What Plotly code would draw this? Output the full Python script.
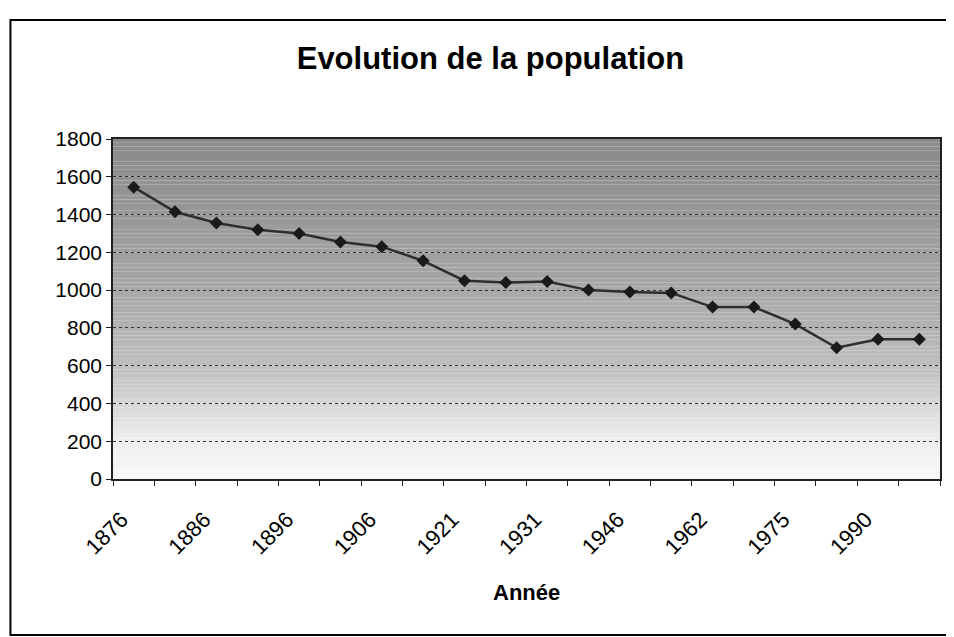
import plotly.graph_objects as go

annees = ["1876", "1881", "1886", "1891", "1896", "1901", "1906", "1911", "1921", "1926",
          "1931", "1936", "1946", "1954", "1962", "1968", "1975", "1982", "1990", "1999"]
population = [1545, 1415, 1355, 1320, 1300, 1255, 1230, 1155, 1050, 1040,
              1045, 1000, 990, 985, 910, 910, 820, 695, 740, 740]
y_ticks = [0, 200, 400, 600, 800, 1000, 1200, 1400, 1600, 1800]
# only every other year gets a label, like the original
x_ticktext = [a if i % 2 == 0 else "" for i, a in enumerate(annees)]

FONT = "Arial, 'Liberation Sans', sans-serif"

fig = go.Figure()

# grey-to-white gradient of the plot area, as bands
stops = [(0, 248), (200, 238), (400, 215), (600, 190), (1000, 168), (1400, 152), (1800, 138)]

def grey_at(v):
    for (v0, g0), (v1, g1) in zip(stops[:-1], stops[1:]):
        if v0 <= v <= v1:
            g = g0 + (g1 - g0) * (v - v0) / (v1 - v0)
            return int(round(g))
    return stops[-1][1]

step = 20
for lo in range(0, 1800, step):
    g = grey_at(lo + step / 2)
    fig.add_shape(type="rect", xref="paper", yref="y", x0=0, x1=1, y0=lo, y1=lo + step,
                  fillcolor=f"rgb({g},{g},{g})", line_width=0, layer="below")

fig.add_trace(go.Scatter(
    x=annees, y=population, mode="lines+markers",
    line=dict(color="#2e2e2e", width=2.5),
    marker=dict(symbol="diamond", size=10, color="#1a1a1a"),
    showlegend=False,
))

# outer chart frame
fig.add_shape(type="rect", xref="paper", yref="paper",
              x0=-0.124, x1=1.1, y0=-0.459, y1=1.35,
              line=dict(color="black", width=2), fillcolor="rgba(0,0,0,0)")

fig.add_annotation(text="<b>Année</b>", xref="paper", yref="paper", x=0.5, y=-0.335,
                   showarrow=False, font=dict(family=FONT, size=22, color="black"),
                   xanchor="center", yanchor="middle")

fig.update_xaxes(
    type="category", categoryorder="array", categoryarray=annees,
    range=[-0.5, len(annees) - 0.5],
    tickvals=annees, ticktext=x_ticktext, tickangle=-45,
    tickson="boundaries", ticks="outside", ticklen=5, tickcolor="#222",
    ticklabelstandoff=17, ticklabelshift=-12,
    tickfont=dict(family=FONT, size=22, color="black"),
    showgrid=False, showline=True, linecolor="#222", linewidth=2, mirror=True,
    zeroline=False,
)
fig.update_yaxes(
    range=[0, 1800], tickvals=y_ticks, ticks="outside", ticklen=5, tickcolor="#222",
    tickfont=dict(family=FONT, size=21, color="black"),
    showgrid=True, gridcolor="#333", griddash="dot", gridwidth=1,
    showline=True, linecolor="#222", linewidth=1.5, mirror=True, zeroline=False,
)
fig.update_layout(
    width=946, height=629,
    title=dict(text="<b>Evolution de la population</b>", xref="container", yref="container",
               x=0.51, y=0.92, xanchor="center", yanchor="middle",
               font=dict(family=FONT, size=31, color="black")),
    margin=dict(l=105, r=12, t=131, b=158),
    paper_bgcolor="white", plot_bgcolor="white",
)

fig.write_html("out.html")
